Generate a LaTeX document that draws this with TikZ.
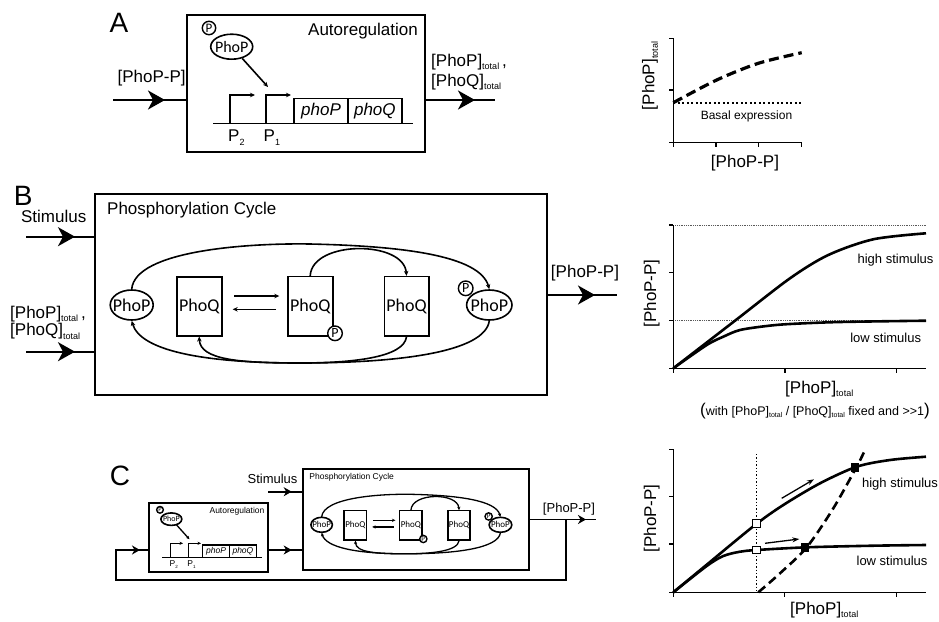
\documentclass[tikz,border=0pt]{standalone}
\usepackage{fontspec}
\setmainfont{Liberation Sans}
\newfontfamily\myr{Carlito}
\usetikzlibrary{arrows.meta,shapes.geometric}
\newcommand{\fs}[1]{\fontsize{#1}{#1}\selectfont}
\newcommand{\tot}{\raisebox{-3.5pt}{\fs{9}total}}
\newcommand{\stot}{\raisebox{-2.5pt}{\fs{7}total}}
\newcommand{\subn}[1]{\raisebox{-4pt}{\fs{9}#1}}
\tikzset{
 frame/.style={draw, line width=1.8pt, inner sep=0pt},
 ln/.style={line width=1.6pt},
 conn/.style={line width=1.8pt},
 bigtip/.style={-{Stealth[length=17pt,width=19pt,inset=5pt]}},
 midtip/.style={-{Stealth[length=8pt,width=9pt,inset=2.5pt]}},
 smalltip/.style={-{Stealth[length=5pt,width=4.5pt]}},
 lbl/.style={font=\fs{17}, inner sep=0pt},
 mol/.style={draw, line width=1.6pt, inner sep=0pt, font=\myr\fs{18}},
 pcirc/.style={draw, circle, fill=white, line width=1.4pt, minimum size=14pt, inner sep=0pt, font=\myr\fs{14}},
 axisln/.style={line width=1.5pt},
 curve/.style={line width=2.6pt},
 stim/.style={font=\fs{13}, inner sep=0pt},
 panel/.style={font=\fs{28}, inner sep=0pt},
}
\newcommand{\autoregbody}{%
 \node[frame, minimum width=238pt, minimum height=137pt] (ar) at (306,83.5) {};
 \node[lbl, anchor=base east] at (418,35) {Autoregulation};
 \node[mol, ellipse, minimum width=42pt, minimum height=25pt, font=\myr\fs{16}] (php) at (231.7,46.7) {\makebox[0pt]{PhoP}};
 \node[pcirc, minimum size=13.4pt, font=\myr\fs{13}] (pp) at (209,28) {P};
 \coordinate (dnaL) at (213,123.3);
 \coordinate (dnaR) at (413,123.3);
 \coordinate (p2) at (230,123.3);
 \coordinate (p1) at (265.7,123.3);
 \coordinate (p2e) at (255,95);
 \coordinate (p1e) at (291,95);
 \coordinate (bind) at (268,87);
 \draw[ln] (dnaL) -- (dnaR);
 \draw[ln, smalltip] (p2) |- (p2e);
 \draw[ln, smalltip] (p1) |- (p1e);
 \draw[ln, smalltip] (php) -- (bind);
 \node[mol, minimum width=54pt, minimum height=25pt, font=\itshape\fs{17}] (gP) at (321,110.8) {phoP};
 \node[mol, minimum width=53.7pt, minimum height=25pt, font=\itshape\fs{17}] (gQ) at (374.85,110.8) {phoQ};
 \node[lbl, anchor=base west] at (228,141.7) {P\subn{2}};
 \node[lbl, anchor=base west] at (263.5,141.7) {P\subn{1}};
}
\newcommand{\cyclebody}{%
 \node[frame, minimum width=452pt, minimum height=201pt] (cyc) at (321,294.5) {};
 \node[lbl, anchor=base west] at (107,214) {Phosphorylation Cycle};
 \node[mol, ellipse, minimum width=43pt, minimum height=30pt] (pl) at (131.7,305) {\makebox[0pt]{PhoP}};
 \node[mol, minimum width=45pt, minimum height=59pt] (q1) at (199.2,306.2) {PhoQ};
 \node[mol, minimum width=45pt, minimum height=59.3pt] (q2) at (310.2,306.3) {PhoQ};
 \node[mol, minimum width=44.4pt, minimum height=59.3pt] (q3) at (406.5,306.3) {PhoQ};
 \node[pcirc, minimum size=14.6pt] (qp) at (335,333.3) {P};
 \node[mol, ellipse, minimum width=45.4pt, minimum height=30pt] (pr) at (489.3,305) {\makebox[0pt]{PhoP}};
 \node[pcirc, minimum size=14.6pt] (prp) at (465.7,288.3) {P};
 \coordinate (ex1a) at (234.3,296); \coordinate (ex1b) at (279.3,296);
 \coordinate (ex2a) at (276,309.3); \coordinate (ex2b) at (232.7,309.3);
 \draw[ln, smalltip] (ex1a) -- (ex1b);
 \draw[ln, smalltip] (ex2a) -- (ex2b);
 \draw[ln, smalltip] (pl.north) .. controls (135,250) and (250,243) .. (310,244) .. controls (400,246) and (480,255) .. (pr.north);
 \draw[ln, smalltip] (q2.north) .. controls (312,240) and (404,240) .. (q3.north);
 \draw[ln, smalltip] (pr.south) .. controls (485,352) and (400,363) .. (300,363) .. controls (200,363) and (140,350) .. (pl.south);
 \draw[ln, smalltip] (q3.south) .. controls (404,358) and (350,363) .. (300,363) .. controls (240,363) and (200,360) .. (q1.south);
}
\begin{document}
\begin{tikzpicture}[x=1pt,y=-1pt]
\useasboundingbox (0,0) rectangle (939,621);
% ---------------- Panel A
\node[panel] (labA) at (119,23.3) {A};
\autoregbody
\coordinate (ainS) at (113,100);
\coordinate (ainT) at (165,100);
\draw[conn] (ainS) -- (ar.west |- ainS);
\draw[conn, bigtip] (ainS) -- (ainT);
\node[lbl] (ainL) at (151.7,78) {[PhoP-P]};
\coordinate (aoutE) at (495,100);
\coordinate (aoutT) at (475,100);
\draw[conn] (ar.east |- aoutE) -- (aoutE);
\draw[conn, bigtip] (ar.east |- aoutE) -- (aoutT);
\node[lbl, anchor=base west] (aoL1) at (431,66) {[PhoP]\tot\,,};
\node[lbl, anchor=base west] (aoL2) at (431,86) {[PhoQ]\tot};
% ---------------- Panel B
\node[panel] (labB) at (23.3,195.5) {B};
\cyclebody
\node[lbl] (stimL) at (53.7,216.5) {Stimulus};
\coordinate (bstS) at (26,236.7);
\coordinate (bstT) at (75,236.7);
\draw[conn] (bstS) -- (cyc.west |- bstS);
\draw[conn, bigtip] (bstS) -- (bstT);
\node[lbl, anchor=base west] (bL1) at (10,318.3) {[PhoP]\tot\,,};
\node[lbl, anchor=base west] (bL2) at (10,335.7) {[PhoQ]\tot};
\coordinate (btS) at (26,351.7);
\coordinate (btT) at (75,351.7);
\draw[conn] (btS) -- (cyc.west |- btS);
\draw[conn, bigtip] (btS) -- (btT);
\coordinate (boutE) at (617,295);
\coordinate (boutT) at (595,295);
\draw[conn] (cyc.east |- boutE) -- (boutE);
\draw[conn, bigtip] (cyc.east |- boutE) -- (boutT);
\node[lbl] (boutL) at (585,273.3) {[PhoP-P]};
% ---------------- Panel C
\node[panel] (labC) at (120,475.5) {C};
\begin{scope}[shift={(55.5,495.8)}, scale=0.5, transform shape, name prefix=c-,
  smalltip/.style={-{Stealth[length=3.5pt,width=3.2pt]}}, ln/.style={line width=1.3pt}]
 \autoregbody
\end{scope}
\begin{scope}[shift={(255.8,372.3)}, scale=0.5, transform shape, name prefix=d-,
  smalltip/.style={-{Stealth[length=3.5pt,width=3.2pt]}}, ln/.style={line width=1.3pt}]
 \cyclebody
\end{scope}
\node[font=\fs{13}, inner sep=0pt] (cstL) at (272.5,478.5) {Stimulus};
\coordinate (cstS) at (268,491.7);
\coordinate (cstT) at (291.7,491.7);
\draw[conn] (cstS) -- (d-cyc.west |- cstS);
\draw[conn, midtip] (cstS) -- (cstT);
\coordinate (cmidT) at (291.7,550);
\draw[conn] (c-ar.east |- cmidT) -- (d-cyc.west |- cmidT);
\draw[conn, midtip] (c-ar.east |- cmidT) -- (cmidT);
\coordinate (coutE) at (596,519.5);
\coordinate (coutT) at (586,519.5);
\draw[conn] (d-cyc.east |- coutE) -- (coutE);
\draw[conn, midtip] (d-cyc.east |- coutE) -- (coutT);
\node[font=\fs{13}, inner sep=0pt] (coutL) at (569,509) {[PhoP-P]};
\coordinate (fbA) at (565.7,519.5);
\coordinate (fbB) at (565.7,580);
\coordinate (fbC) at (116,580);
\coordinate (fbD) at (116,550);
\coordinate (fbT) at (140,550);
\draw[conn] (fbA) -- (fbB) -- (fbC) -- (fbD) -- (c-ar.west |- fbD);
\draw[conn, midtip] (fbD) -- (fbT);
% ---------------- Plot A
\draw[axisln] (673.3,38.3) -- (673.3,142.7) -- (801.7,142.7);
\foreach \yy in {38.3,90,142.7} \draw[axisln] (669,\yy) -- (673.3,\yy);
\foreach \xx in {673.3,716,758.3,801.7} \draw[axisln] (\xx,142.7) -- (\xx,146.5);
\draw[line width=3.2pt, dash pattern=on 10pt off 5pt] plot[smooth] coordinates {(673.3,102.7) (716.7,80) (758.3,63.3) (801.7,52.7)};
\draw[line width=2pt, dash pattern=on 2pt off 2.5pt] (673.3,103.3) -- (801.7,103.3);
\node[font=\fs{12}, inner sep=0pt] (basal) at (746.5,116.7) {Basal expression};
\node[lbl] (paX) at (745,163.3) {[PhoP-P]};
\node[lbl, rotate=90] (paY) at (650,76) {[PhoP]\tot};
% ---------------- Plot B
\draw[line width=0.8pt, gray!70!black, densely dotted] (673.3,225) -- (926,225);
\draw[line width=0.8pt, gray!70!black, densely dotted] (673.3,320.7) -- (926,320.7);
\draw[axisln] (673.3,225) -- (673.3,368.3) -- (926,368.3);
\foreach \yy in {225,272.7,320.7,368.3} \draw[axisln] (669,\yy) -- (673.3,\yy);
\foreach \xx in {673.3,785,896.7} \draw[axisln] (\xx,368.3) -- (\xx,372.7);
\draw[curve] plot[smooth] coordinates {(673.3,368.3) (735,320.7) (790,278.3) (828.3,255) (873.3,239.3) (926,233.3)};
\draw[curve] plot[smooth] coordinates {(673.3,368.3) (706.7,345) (723.3,336.7) (740,330) (766.7,326) (790,324) (840,322) (926,320.7)};
\node[stim] (bhi) at (895.5,260) {high stimulus};
\node[stim] (blo) at (885.7,337.8) {low stimulus};
\node[lbl, rotate=90] (pbY) at (651.7,293.3) {[PhoP-P]};
\node[lbl, anchor=base west] (pbX) at (785,393) {[PhoP]\tot};
\node[font=\fs{12.5}, inner sep=0pt, anchor=base] (pbN) at (815,415) {{\fs{17}(}with [PhoP]\stot{} / [PhoQ]\stot{} fixed and >{}>{}1{\fs{17})}};
% ---------------- Plot C
\draw[axisln] (673.3,449.3) -- (673.3,592.3) -- (926,592.3);
\foreach \yy in {449.3,496.7,544,592.3} \draw[axisln] (669,\yy) -- (673.3,\yy);
\foreach \xx in {673.3,784.3,896.7} \draw[axisln] (\xx,592.3) -- (\xx,596.7);
\draw[line width=1.4pt, dash pattern=on 1.4pt off 2pt] (756.7,454) -- (756.7,592.3);
\draw[curve] plot[smooth] coordinates {(673.3,592.3) (706.7,564.7) (755,525) (783.3,505) (820,483.3) (856.7,466.7) (890,460) (926,456.7)};
\draw[curve] plot[smooth] coordinates {(673.3,592.3) (706.7,566) (723.3,556) (740,551.7) (756.7,550) (806.7,547.3) (873.3,545.7) (926,545)};
\draw[line width=2.6pt, dash pattern=on 9pt off 5pt] plot[smooth] coordinates {(758.3,592.3) (780,573.3) (806.7,547.3) (833.3,508.3) (856.7,466.7) (865,450)};
\node[draw, fill=white, line width=1pt, minimum size=7.5pt, inner sep=0pt] (sq1) at (756.7,523.3) {};
\node[draw, fill=white, line width=1pt, minimum size=7.5pt, inner sep=0pt] (sq2) at (756.7,550) {};
\node[draw, fill=black, line width=1pt, minimum size=7.5pt, inner sep=0pt] (sq3) at (855,467.3) {};
\node[draw, fill=black, line width=1pt, minimum size=7.5pt, inner sep=0pt] (sq4) at (805,547.3) {};
\coordinate (ar1s) at (781.7,498.3); \coordinate (ar1e) at (814,479.3);
\coordinate (ar2s) at (765,543.3); \coordinate (ar2e) at (799.3,539);
\draw[line width=1.3pt, -{Stealth[length=7pt,width=5pt]}] (ar1s) -- (ar1e);
\draw[line width=1.3pt, -{Stealth[length=7pt,width=5pt]}] (ar2s) -- (ar2e);
\node[stim] (chi) at (900,484.3) {high stimulus};
\node[stim] (clo) at (892,560.5) {low stimulus};
\node[lbl, rotate=90] (pcY) at (651.7,518.3) {[PhoP-P]};
\node[lbl, anchor=base west] (pcX) at (790,614) {[PhoP]\tot};
\end{tikzpicture}
\end{document}
